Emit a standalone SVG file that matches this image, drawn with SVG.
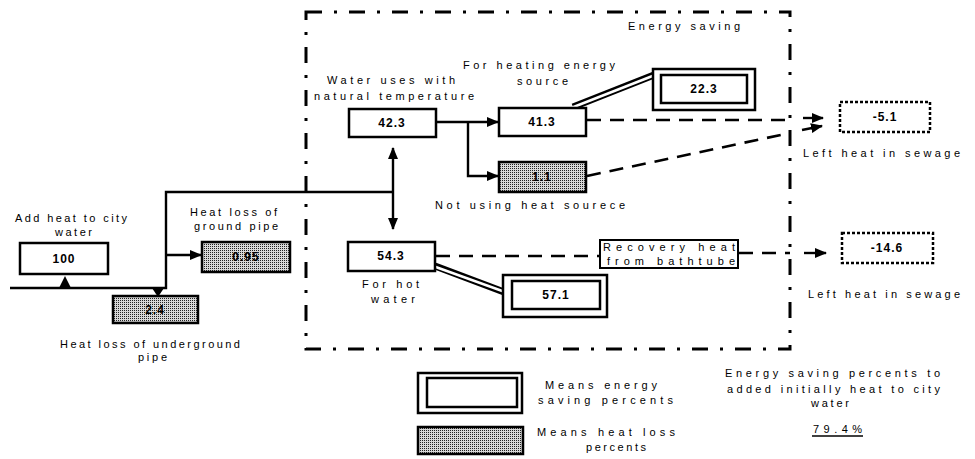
<svg xmlns="http://www.w3.org/2000/svg" width="975" height="459" viewBox="0 0 975 459">
<defs>
<pattern id="stip" width="2" height="2" patternUnits="userSpaceOnUse">
<rect width="2" height="2" fill="#d8d8d8"/>
<rect x="0" y="0" width="1" height="1" fill="#222"/>
</pattern>
<marker id="ah" viewBox="0 0 12 10" refX="11" refY="5" markerWidth="12" markerHeight="10" markerUnits="userSpaceOnUse" orient="auto">
<path d="M0,0 L12,5 L0,10 z" fill="#000"/>
</marker>
</defs>
<style>
.lbl{font-family:"Liberation Sans",Arial,sans-serif;font-size:11px;fill:#000}
.num{font-family:"Liberation Sans",Arial,sans-serif;font-size:12px;font-weight:bold;fill:#000;text-anchor:middle;letter-spacing:1px}
.box{fill:#fff;stroke:#000;stroke-width:2.5}
.hbox{fill:url(#stip);stroke:#000;stroke-width:2.5}
.dbox{fill:#fff;stroke:#000;stroke-width:2.5;stroke-dasharray:3 2}
.ln{fill:none;stroke:#000;stroke-width:2.4}
.dash{fill:none;stroke:#000;stroke-width:2.6;stroke-dasharray:14 9}
.dbl-o{fill:none;stroke:#000;stroke-width:7}
.dbl-i{fill:none;stroke:#fff;stroke-width:2.5}
.frame{fill:none;stroke:#000;stroke-width:3;stroke-dasharray:16 12 3 12}
</style>
<rect width="975" height="459" fill="#fff"/>

<g id="energy-saving-frame">
<rect class="frame" x="306" y="12" width="484" height="337"/>
<text class="lbl" x="628" y="30" textLength="112" lengthAdjust="spacing">Energy saving</text>
</g>

<g id="connectors">
<path class="ln" d="M10,288 H166 V192 H393"/>
<path class="ln" d="M166,255 H201" marker-end="url(#ah)"/>
<polygon points="59,288 71,288 65,276" fill="#000"/>
<polygon points="152,288 164,288 158,297" fill="#000"/>
<path class="ln" d="M393,192 V148" marker-end="url(#ah)"/>
<path class="ln" d="M393,192 V229" marker-end="url(#ah)"/>
<path class="ln" d="M436,122 H498" marker-end="url(#ah)"/>
<path class="ln" d="M468,122 V176 H498" marker-end="url(#ah)"/>
<path class="dash" d="M587,120 H790"/>
<path class="ln" d="M803,118 H823" marker-end="url(#ah)"/>
<path class="dash" d="M587,176 L790,133"/>
<path class="ln" d="M802,130 L822,126" marker-end="url(#ah)"/>
<path class="dash" d="M436,256 H600"/>
<path class="dash" d="M739,253 H790"/>
<path class="ln" d="M804,253 H826" marker-end="url(#ah)"/>
<path class="dbl-o" d="M573,107 L654,75"/>
<path class="dbl-i" d="M571,108 L655,75"/>
<path class="dbl-o" d="M435,266 L504,292"/>
<path class="dbl-i" d="M433,266 L505,292"/>
</g>

<g id="node-100">
<text class="lbl" x="15" y="222" textLength="112" lengthAdjust="spacing">Add heat to city</text>
<text class="lbl" x="55" y="236" textLength="37" lengthAdjust="spacing">water</text>
<rect class="box" x="20" y="243" width="88" height="31"/>
<text class="num" x="64" y="263">100</text>
</g>

<g id="node-0.95">
<text class="lbl" x="190" y="216" textLength="87" lengthAdjust="spacing">Heat loss of</text>
<text class="lbl" x="194" y="230" textLength="84" lengthAdjust="spacing">ground pipe</text>
<rect class="hbox" x="202" y="242" width="88" height="30"/>
<text class="num" x="246" y="261">0.95</text>
</g>

<g id="node-2.4">
<rect class="hbox" x="113" y="296" width="85" height="27"/>
<text class="num" x="155" y="314">2.4</text>
<text class="lbl" x="60" y="348" textLength="180" lengthAdjust="spacing">Heat loss of underground</text>
<text class="lbl" x="138" y="361" textLength="29" lengthAdjust="spacing">pipe</text>
</g>

<g id="node-42.3">
<text class="lbl" x="327" y="84" textLength="128" lengthAdjust="spacing">Water uses with</text>
<text class="lbl" x="314" y="100" textLength="160" lengthAdjust="spacing">natural temperature</text>
<rect class="box" x="349" y="109" width="87" height="28"/>
<text class="num" x="392" y="127">42.3</text>
</g>

<g id="node-41.3">
<text class="lbl" x="463" y="69" textLength="152" lengthAdjust="spacing">For heating energy</text>
<text class="lbl" x="517" y="85" textLength="51" lengthAdjust="spacing">source</text>
<rect class="box" x="499" y="108" width="87" height="28"/>
<text class="num" x="542" y="126">41.3</text>
</g>

<g id="node-1.1">
<rect class="hbox" x="499" y="162" width="87" height="30"/>
<text class="num" x="542" y="181">1.1</text>
<text class="lbl" x="435" y="209" textLength="190" lengthAdjust="spacing">Not using heat sourece</text>
</g>

<g id="node-22.3">
<rect class="box" x="653" y="69" width="102" height="41"/>
<rect class="box" x="661" y="75" width="86" height="28"/>
<text class="num" x="704" y="93">22.3</text>
</g>

<g id="node-minus5.1">
<rect class="dbox" x="840" y="102" width="90" height="30"/>
<text class="num" x="885" y="121">-5.1</text>
<text class="lbl" x="803" y="157" textLength="157" lengthAdjust="spacing">Left heat in sewage</text>
</g>

<g id="node-54.3">
<rect class="box" x="348" y="242" width="87" height="29"/>
<text class="num" x="391" y="260">54.3</text>
<text class="lbl" x="362" y="288" textLength="57" lengthAdjust="spacing">For hot</text>
<text class="lbl" x="371" y="303" textLength="44" lengthAdjust="spacing">water</text>
</g>

<g id="node-57.1">
<rect class="box" x="503" y="275" width="104" height="42"/>
<rect class="box" x="512" y="281" width="88" height="28"/>
<text class="num" x="556" y="299">57.1</text>
</g>

<g id="node-recovery">
<rect fill="#fff" stroke="#000" stroke-width="2" x="600" y="240" width="138" height="28"/>
<text class="lbl" x="603" y="251" textLength="132" lengthAdjust="spacing">Recovery heat</text>
<text class="lbl" x="607" y="265" textLength="128" lengthAdjust="spacing">from bathtube</text>
</g>

<g id="node-minus14.6">
<rect class="dbox" x="842" y="233" width="91" height="30"/>
<text class="num" x="887" y="252">-14.6</text>
<text class="lbl" x="808" y="298" textLength="152" lengthAdjust="spacing">Left heat in sewage</text>
</g>

<g id="legend">
<rect class="box" x="418" y="373" width="104" height="40"/>
<rect class="box" x="427" y="378" width="90" height="29"/>
<text class="lbl" x="545" y="389" textLength="112" lengthAdjust="spacing">Means energy</text>
<text class="lbl" x="538" y="404" textLength="135" lengthAdjust="spacing">saving  percents</text>
<rect class="hbox" x="418" y="427" width="105" height="27"/>
<text class="lbl" x="537" y="436" textLength="138" lengthAdjust="spacing">Means heat loss</text>
<text class="lbl" x="586" y="451" textLength="60" lengthAdjust="spacing">percents</text>
</g>

<g id="summary">
<text class="lbl" x="725" y="377" textLength="215" lengthAdjust="spacing">Energy saving percents to</text>
<text class="lbl" x="727" y="393" textLength="213" lengthAdjust="spacing">added initially heat to city</text>
<text class="lbl" x="811" y="407" textLength="38" lengthAdjust="spacing">water</text>
<text class="lbl" x="813" y="433" textLength="49" lengthAdjust="spacing">79.4%</text>
<line x1="812" y1="436" x2="863" y2="436" stroke="#000" stroke-width="1.5"/>
</g>
</svg>
